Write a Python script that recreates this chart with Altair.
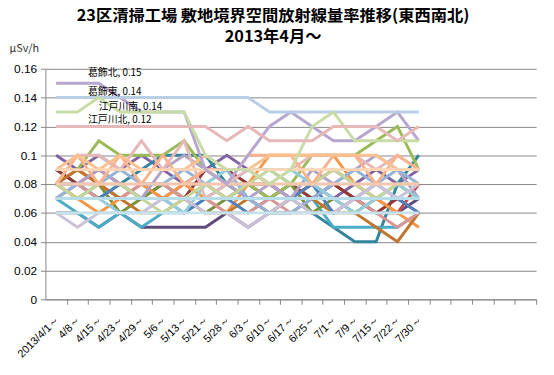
import altair as alt
import pandas as pd

# ---- categories -------------------------------------------------------
dates = ["2013/4/1～", "4/8～", "4/15～", "4/23～", "4/29～", "5/6～", "5/13～",
         "5/21～", "5/28～", "6/3～", "6/10～", "6/17～", "6/25～", "7/1～",
         "7/9～", "7/15～", "7/22～", "7/30～"]
blank_slots = ["_b1", "_b2", "_b3", "_b4", "_b5"]
x_domain = dates + blank_slots
y_ticks = [0, 0.02, 0.04, 0.06, 0.08, 0.1, 0.12, 0.14, 0.16]

# ---- series values ------------------------------------------------------
s_dark_purple = [0.06, 0.06, 0.05, 0.06, 0.05, 0.05, 0.05, 0.05, 0.06, 0.05, 0.06, 0.06, 0.07, 0.08, 0.07, 0.06, 0.06, 0.07]
s_purple      = [0.10, 0.09, 0.10, 0.09, 0.10, 0.09, 0.08, 0.09, 0.10, 0.09, 0.08, 0.07, 0.08, 0.07, 0.08, 0.09, 0.08, 0.09]
s_teal        = [0.09, 0.08, 0.07, 0.08, 0.09, 0.10, 0.10, 0.10, 0.08, 0.07, 0.06, 0.07, 0.06, 0.05, 0.04, 0.04, 0.08, 0.10]
s_aqua        = [0.07, 0.06, 0.05, 0.06, 0.05, 0.06, 0.06, 0.07, 0.08, 0.09, 0.09, 0.08, 0.07, 0.05, 0.05, 0.05, 0.05, 0.06]
s_brick       = [0.09, 0.08, 0.09, 0.08, 0.07, 0.08, 0.07, 0.09, 0.09, 0.08, 0.07, 0.08, 0.07, 0.08, 0.07, 0.06, 0.07, 0.06]
s_red         = [0.08, 0.09, 0.08, 0.07, 0.08, 0.07, 0.08, 0.08, 0.07, 0.08, 0.08, 0.07, 0.08, 0.09, 0.08, 0.07, 0.06, 0.08]
s_olive       = [0.08, 0.07, 0.08, 0.06, 0.07, 0.08, 0.07, 0.06, 0.07, 0.08, 0.07, 0.08, 0.06, 0.07, 0.06, 0.07, 0.08, 0.07]
s_green       = [0.09, 0.09, 0.11, 0.10, 0.10, 0.10, 0.11, 0.09, 0.08, 0.08, 0.07, 0.08, 0.10, 0.10, 0.10, 0.11, 0.12, 0.09]
s_orange      = [0.08, 0.07, 0.06, 0.07, 0.08, 0.07, 0.08, 0.07, 0.06, 0.08, 0.10, 0.10, 0.10, 0.10, 0.08, 0.07, 0.06, 0.05]
s_brown       = [0.08, 0.09, 0.08, 0.07, 0.06, 0.06, 0.07, 0.06, 0.06, 0.07, 0.06, 0.07, 0.07, 0.06, 0.06, 0.05, 0.04, 0.06]
s_blue        = [0.08, 0.08, 0.07, 0.08, 0.07, 0.07, 0.06, 0.07, 0.07, 0.06, 0.07, 0.07, 0.08, 0.06, 0.07, 0.08, 0.07, 0.06]
s_salmon      = [0.07, 0.08, 0.07, 0.07, 0.08, 0.08, 0.07, 0.07, 0.06, 0.06, 0.07, 0.06, 0.06, 0.06, 0.07, 0.06, 0.05, 0.06]
s_lavender    = [0.07, 0.08, 0.09, 0.08, 0.07, 0.09, 0.10, 0.09, 0.08, 0.07, 0.08, 0.07, 0.09, 0.08, 0.09, 0.10, 0.09, 0.07]
s_lightblue   = [0.07, 0.08, 0.08, 0.09, 0.08, 0.08, 0.09, 0.08, 0.09, 0.07, 0.06, 0.06, 0.07, 0.08, 0.09, 0.08, 0.09, 0.08]
s_sky         = [0.07, 0.07, 0.07, 0.06, 0.06, 0.07, 0.06, 0.08, 0.09, 0.09, 0.09, 0.09, 0.08, 0.07, 0.06, 0.07, 0.08, 0.07]
s_pink_low    = [0.08, 0.10, 0.10, 0.09, 0.11, 0.09, 0.11, 0.07, 0.08, 0.09, 0.08, 0.09, 0.10, 0.10, 0.10, 0.09, 0.10, 0.09]
s_palegreen   = [0.08, 0.07, 0.08, 0.08, 0.07, 0.06, 0.07, 0.08, 0.07, 0.08, 0.09, 0.08, 0.08, 0.09, 0.08, 0.07, 0.08, 0.08]
s_palelav     = [0.06, 0.05, 0.06, 0.06, 0.06, 0.07, 0.07, 0.06, 0.06, 0.05, 0.06, 0.07, 0.06, 0.06, 0.07, 0.08, 0.07, 0.08]
s_peach_zig   = [0.08, 0.10, 0.08, 0.10, 0.08, 0.10, 0.08, 0.09, 0.08, 0.10, 0.10, 0.10, 0.08, 0.10, 0.10, 0.08, 0.10, 0.09]
s_peach       = [0.09, 0.10, 0.09, 0.10, 0.09, 0.09, 0.09, 0.10, 0.09, 0.09, 0.10, 0.10, 0.10, 0.10, 0.10, 0.10, 0.09, 0.09]
s_paleteal7   = [0.07, 0.07, 0.07, 0.07, 0.07, 0.07, 0.07, 0.07, 0.07, 0.07, 0.07, 0.07, 0.07, 0.07, 0.07, 0.07, 0.07, 0.07]
s_paleteal6   = [0.06, 0.06, 0.06, 0.06, 0.06, 0.06, 0.06, 0.06, 0.06, 0.06, 0.06, 0.06, 0.06, 0.06, 0.06, 0.06, 0.06, 0.06]
s_peach8      = [0.08, 0.08, 0.08, 0.08, 0.08, 0.08, 0.08, 0.08, 0.08, 0.08, 0.08, 0.08, 0.08, 0.08, 0.08, 0.08, 0.08, 0.08]
s_peach9      = [0.09, 0.09, 0.09, 0.09, 0.09, 0.09, 0.09, 0.09, 0.09, 0.09, 0.09, 0.09, 0.09, 0.09, 0.09, 0.09, 0.09, 0.09]
s_katsu_kita  = [0.15, 0.15, 0.15, 0.14, 0.13, 0.13, 0.13, 0.09, 0.08, 0.10, 0.12, 0.13, 0.12, 0.11, 0.11, 0.12, 0.13, 0.11]
s_katsu_higa  = [0.14, 0.14, 0.14, 0.14, 0.14, 0.14, 0.14, 0.14, 0.14, 0.14, 0.13, 0.13, 0.13, 0.13, 0.13, 0.13, 0.13, 0.13]
s_edo_minami  = [0.13, 0.13, 0.14, 0.13, 0.13, 0.13, 0.13, 0.10, 0.09, 0.09, 0.08, 0.09, 0.12, 0.13, 0.11, 0.11, 0.11, 0.11]
s_edo_kita    = [0.12, 0.12, 0.12, 0.12, 0.12, 0.12, 0.12, 0.12, 0.11, 0.12, 0.11, 0.11, 0.11, 0.12, 0.12, 0.12, 0.11, 0.12]

series = [
    ("中央西", "#604A7B", s_dark_purple),
    ("港北", "#8064A2", s_purple),
    ("北東", "#31859C", s_teal),
    ("品川南", "#4BACC6", s_aqua),
    ("目黒北", "#953735", s_brick),
    ("大田東", "#C0504D", s_red),
    ("多摩川西", "#77933C", s_olive),
    ("世田谷南", "#9BBB59", s_green),
    ("千歳北", "#F79646", s_orange),
    ("渋谷東", "#C0762E", s_brown),
    ("杉並西", "#4F81BD", s_blue),
    ("光が丘南", "#D99694", s_salmon),
    ("板橋北", "#B3A2C7", s_lavender),
    ("足立東", "#95B3D7", s_lightblue),
    ("墨田西", "#93CDDD", s_sky),
    ("新江東南", "#E6B9B8", s_pink_low),
    ("有明北", "#C3D69B", s_palegreen),
    ("豊島東", "#CCC1DA", s_palelav),
    ("練馬西", "#F9B38C", s_peach_zig),
    ("練馬南", "#FAC090", s_peach),
    ("江戸川東", "#B7DEE8", s_paleteal7),
    ("江戸川西", "#C6E3EC", s_paleteal6),
    ("葛飾西", "#F4C7AE", s_peach8),
    ("葛飾南", "#FCD5B5", s_peach9),
    ("葛飾北", "#B7A6CF", s_katsu_kita),
    ("葛飾東", "#B9CDE5", s_katsu_higa),
    ("江戸川南", "#C9DCA7", s_edo_minami),
    ("江戸川北", "#E6B9B8", s_edo_kita),
]

rows = []
for name, color, vals in series:
    for d, v in zip(dates, vals):
        rows.append({"series": name, "date": d, "value": v})
df = pd.DataFrame(rows)

label_series = ["葛飾北", "葛飾東", "江戸川南", "江戸川北"]
label_values = [0.15, 0.14, 0.14, 0.12]
label_dates = ["4/15～", "4/15～", "4/15～", "4/15～"]
label_dx = [-11, -11, 0, -11]
label_dy = [-10, -6, 10, -6]

GRAY = "#868686"
PLOT_W = 498
HALF_BAND = PLOT_W / len(x_domain) / 2

x_scale = alt.Scale(domain=x_domain, type="band", paddingInner=0, paddingOuter=0)
y_scale = alt.Scale(domain=[0, 0.16], nice=False)

x_axis = alt.Axis(
    title=None, grid=False, labelAngle=315,
    labelAlign="right", labelBaseline="middle", labelOverlap=False,
    labelExpr="indexof(datum.value, '_b') == 0 ? '' : datum.value",
    labelFont="Liberation Sans", labelFontSize=11, labelColor="black", labelPadding=14,
    tickOffset=HALF_BAND, labelOffset=-HALF_BAND + 1,
    domainColor=GRAY, tickColor=GRAY, tickSize=5,
)
y_axis = alt.Axis(
    values=y_ticks,
    labelExpr="datum.value == 0 ? '0' : (abs(datum.value - 0.1) < 0.001 ? '0.1' : format(datum.value, '.2f'))",
    grid=True, gridColor=GRAY, gridWidth=1,
    domainColor=GRAY, tickColor=GRAY, tickSize=5,
    labelFont="Liberation Sans", labelFontSize=12, labelColor="black", labelPadding=4,
    title="μSv/h", titleAngle=0, titleX=-37, titleY=-21, titleAlign="left",
    titleBaseline="middle", titleFontWeight="normal", titleFontSize=11,
    titleFont="Noto Sans CJK JP", titleColor="#333333",
)

x_enc = alt.X("date:N", scale=x_scale, axis=x_axis)
y_enc = alt.Y("value:Q", scale=y_scale, axis=y_axis)

lines = alt.Chart(df).mark_line(strokeWidth=3).encode(
    x=x_enc,
    y=y_enc,
    color=alt.Color("series:N", sort=[s[0] for s in series],
                    scale=alt.Scale(domain=[s[0] for s in series],
                                    range=[s[1] for s in series]),
                    legend=None),
)

lab_df = pd.DataFrame({"series": label_series, "value": label_values, "date": label_dates,
                       "text": [f"{n}, {v:.2f}" for n, v in zip(label_series, label_values)]})

layers = [lines]
for i, name in enumerate(label_series):
    layers.append(
        alt.Chart(lab_df[lab_df.series == name]).mark_text(
            align="left", baseline="middle", dx=label_dx[i], dy=label_dy[i],
            font="Noto Sans CJK JP", fontSize=10, color="black",
        ).encode(x=x_enc, y=y_enc, text="text:N")
    )

chart = alt.layer(*layers).properties(
    width=PLOT_W, height=234,
    background="white",
    autosize=alt.AutoSizeParams(type="none"),
    padding={"left": 38, "top": 59, "right": 10, "bottom": 66},
    title=alt.TitleParams(
        text=["23区清掃工場 敷地境界空間放射線量率推移(東西南北)", "2013年4月～"],
        font="Noto Sans CJK JP", fontSize=16.5, fontWeight="bold", color="black",
        anchor="middle", dx=-18, offset=-3, lineHeight=21,
    ),
).configure_view(stroke=None)

chart.save("out.html", embed_options={"renderer": "svg", "actions": False})
